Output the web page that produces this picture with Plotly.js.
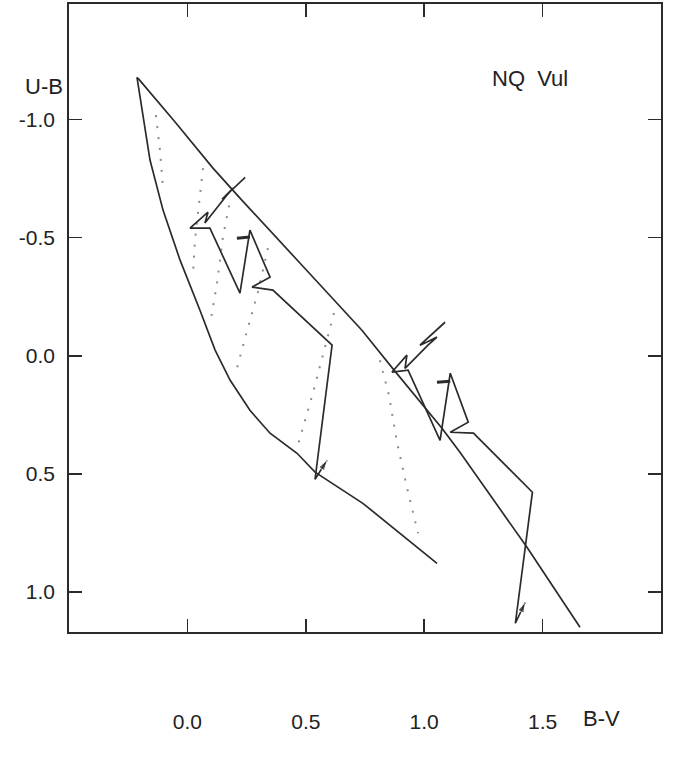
<!DOCTYPE html>
<html>
<head>
<meta charset="utf-8">
<script src="https://cdn.plot.ly/plotly-3.0.1.min.js"></script>
<style>html,body{margin:0;padding:0;background:#fff;}#chart{width:677px;height:762px;}</style>
</head>
<body>
<div id="chart"></div>
<script>
// ---- data (B-V, U-B) ----
const lowerBV = [-0.213,-0.158,-0.103,-0.031,0.053,0.117,0.180,0.264,0.349,0.463,0.539,0.741,1.054];
const lowerUB = [-1.180,-0.829,-0.617,-0.405,-0.193,-0.024,0.103,0.231,0.328,0.413,0.493,0.625,0.879];

const upperBV = [-0.209,-0.052,0.108,0.222,0.476,0.657,0.737,0.877,1.075,1.151,1.434,1.658];
const upperUB = [-1.176,-0.990,-0.795,-0.668,-0.392,-0.193,-0.108,0.066,0.307,0.409,0.811,1.150];

const track1BV = [0.244,0.146,0.193,0.163,0.074,0.087,0.011,0.095,0.222,0.264,0.349,0.273,0.361,0.611,0.539,0.590];
const track1UB = [-0.756,-0.663,-0.710,-0.676,-0.562,-0.608,-0.541,-0.541,-0.265,-0.532,-0.333,-0.291,-0.278,-0.045,0.523,0.442];
const mark1BV = [0.209,0.264];
const mark1UB = [-0.498,-0.503];

const track2BV = [1.088,0.982,1.012,1.054,1.016,0.919,0.927,0.864,0.932,1.067,1.110,1.186,1.110,1.208,1.457,1.385,1.427];
const track2UB = [-0.142,-0.045,-0.058,-0.079,-0.045,0.053,-0.003,0.069,0.061,0.358,0.074,0.281,0.324,0.328,0.578,1.133,1.044];
const mark2BV = [1.054,1.110];
const mark2UB = [0.112,0.108];

const dotA_BV = [-0.133,-0.116,-0.103];
const dotA_UB = [-1.019,-0.871,-0.714];
const dotB_BV = [0.066,0.049,0.032,0.024];
const dotB_UB = [-0.795,-0.647,-0.490,-0.350];
const dotC_BV = [0.176,0.150,0.125,0.100];
const dotC_UB = [-0.637,-0.502,-0.308,-0.159];
const dotD_BV = [0.340,0.298,0.256,0.205];
const dotD_UB = [-0.456,-0.269,-0.121,0.069];
const dotE_BV = [0.619,0.581,0.530,0.463];
const dotE_UB = [-0.181,-0.036,0.158,0.392];
const dotF_BV = [0.813,0.851,0.885,0.927,0.974];
const dotF_UB = [0.019,0.167,0.366,0.557,0.752];

const xTickVals = [0, 0.5, 1.0, 1.5];
const xTickText = ["0.0", "0.5", "1.0", "1.5"];
const yTickVals = [-1.0, -0.5, 0, 0.5, 1.0];
const yTickText = ["-1.0", "-0.5", "0.0", "0.5", "1.0"];

// ---- drawing ----
const ink = '#2b2b2b';
const solid = {color: ink, width: 1.7};
const dotted = {color: '#8c8c8c', width: 2, dash: '2px,9px'};

function line(x, y, style) {
  return {x: x, y: y, mode: 'lines', line: style, hoverinfo: 'skip', showlegend: false};
}
function arrowTrack(x, y) {
  const n = x.length;
  return {
    x: x, y: y, mode: 'lines+markers', line: solid, hoverinfo: 'skip', showlegend: false,
    marker: {symbol: 'arrow', angleref: 'previous', color: ink,
             size: x.map((v, i) => i === n - 1 ? 11 : 0)}
  };
}

const traces = [
  line(dotA_BV, dotA_UB, dotted),
  line(dotB_BV, dotB_UB, dotted),
  line(dotC_BV, dotC_UB, dotted),
  line(dotD_BV, dotD_UB, dotted),
  line(dotE_BV, dotE_UB, dotted),
  line(dotF_BV, dotF_UB, dotted),
  line(lowerBV, lowerUB, solid),
  line(upperBV, upperUB, solid),
  arrowTrack(track1BV, track1UB),
  arrowTrack(track2BV, track2UB),
  line(mark1BV, mark1UB, {color: ink, width: 3}),
  line(mark2BV, mark2UB, {color: ink, width: 3})
];

const fontFam = 'Liberation Sans, Arial, sans-serif';
const axisCommon = {
  showline: true, linecolor: ink, linewidth: 1.8, mirror: 'ticks',
  ticks: 'inside', ticklen: 13, tickwidth: 1.5, tickcolor: ink,
  showgrid: false, zeroline: false,
  tickfont: {family: fontFam, size: 21, color: '#222'}
};

function label(text, x, y) {
  return {text: text, xref: 'paper', yref: 'paper', x: x, y: y, showarrow: false,
          xanchor: 'center', yanchor: 'middle',
          font: {family: fontFam, size: 22, color: '#222'}};
}

const layout = {
  width: 677, height: 762,
  margin: {l: 69, r: 16, t: 4, b: 130},
  paper_bgcolor: '#fff', plot_bgcolor: '#fff',
  xaxis: Object.assign({}, axisCommon, {
    range: [-0.5, 2.0], tickvals: xTickVals, ticktext: xTickText, ticklabelstandoff: 70
  }),
  yaxis: Object.assign({}, axisCommon, {
    range: [1.17, -1.49], tickvals: yTickVals, ticktext: yTickText, ticklabelstandoff: 8
  }),
  annotations: [
    label('U-B', -0.042, 0.868),
    label('NQ&nbsp;&nbsp;Vul', 0.779, 0.882),
    label('B-V', 0.900, -0.137)
  ]
};

Plotly.newPlot('chart', traces, layout, {staticPlot: true, displayModeBar: false});
</script>
</body>
</html>
